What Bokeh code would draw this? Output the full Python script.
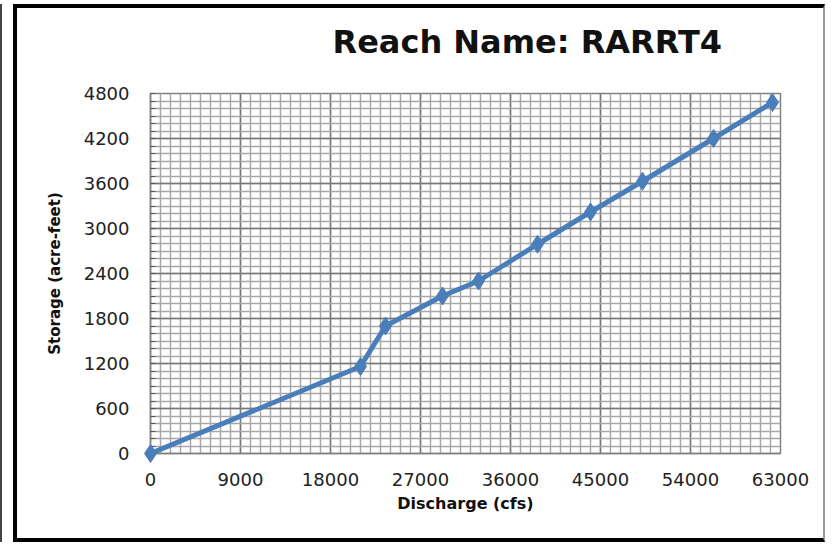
from bokeh.plotting import figure
from bokeh.models import FixedTicker, Range1d
from bokeh.core.properties import value
from bokeh.embed import file_html
from bokeh.resources import INLINE

# Data
discharge_cfs = [0, 21000, 23500, 29200, 32800, 38700, 44000, 49200, 56300, 62200]
storage_acft = [0, 1160, 1700, 2100, 2300, 2790, 3220, 3630, 4200, 4680]

x_major_ticks = list(range(0, 63001, 9000))
x_minor_ticks = list(range(0, 63001, 1000))
y_major_ticks = list(range(0, 4801, 600))
y_minor_ticks = list(range(0, 4801, 100))

title_text = "Reach Name: RARRT4"
x_label = "Discharge (cfs)"
y_label = "Storage (acre-feet)"

BLUE = "#4A7EBB"
FONT = "DejaVu Sans"

p = figure(
    width=812, height=538,
    x_range=Range1d(0, 63000), y_range=Range1d(0, 4800),
    output_backend="svg", toolbar_location=None,
    min_border_left=133, min_border_right=49,
    min_border_top=85, min_border_bottom=93,
    background_fill_color="white", border_fill_color="white",
)
# outer chart frame
p.styles = {
    "margin-left": "13px", "margin-top": "4px",
    "border-left": "4px solid black", "border-top": "4px solid black",
    "border-bottom": "4px solid black", "border-right": "2px solid #9a9a9a",
    "box-shadow": "-11px 0 0 0 white, -13px 0 0 0 #444444",
}

p.outline_line_color = "#808080"
p.outline_line_width = 1.5

# grids
for g, ticks, minors in ((p.xgrid, x_major_ticks, x_minor_ticks), (p.ygrid, y_major_ticks, y_minor_ticks)):
    g.ticker = FixedTicker(ticks=ticks, minor_ticks=minors)
    g.grid_line_color = "#787878"
    g.grid_line_width = 1.5
    g.minor_grid_line_color = "#A8A8A8"
    g.minor_grid_line_width = 1.5

p.xaxis.ticker = FixedTicker(ticks=x_major_ticks, minor_ticks=x_minor_ticks)
p.yaxis.ticker = FixedTicker(ticks=y_major_ticks, minor_ticks=y_minor_ticks)

for ax in (p.xaxis[0], p.yaxis[0]):
    ax.axis_line_color = "#808080"
    ax.axis_line_width = 1.5
    ax.major_tick_in = 0
    ax.major_tick_out = 0
    ax.major_label_text_font = FONT
    ax.major_label_text_font_size = "18px"
    ax.major_label_text_color = "#222222"
    ax.axis_label_text_font = FONT
    ax.axis_label_text_font_style = "bold"
    ax.axis_label_text_color = "#111111"

p.xaxis.axis_label_text_font_size = "16px"
p.yaxis.axis_label_text_font_size = "15px"
p.xaxis.minor_tick_in = 0
p.xaxis.minor_tick_out = 0
p.yaxis.minor_tick_in = 5
p.yaxis.minor_tick_out = 0
p.yaxis.minor_tick_line_color = "#555555"

p.xaxis.axis_label = x_label
p.yaxis.axis_label = y_label
p.xaxis.major_label_standoff = 19
p.yaxis.major_label_standoff = 21
p.xaxis.axis_label_standoff = 5
p.yaxis.axis_label_standoff = 17

p.line(discharge_cfs, storage_acft, line_color=BLUE, line_width=5)
p.scatter(discharge_cfs, storage_acft, marker="diamond", size=18, fill_color=BLUE,
          line_color=BLUE, level="overlay")

# chart title: anchored at the frame's top-left corner, shifted by pixel offsets
p.text(x=[p.x_range.start], y=[p.y_range.end], text=[title_text],
       x_offset=182, y_offset=-52,
       text_font=value(FONT), text_font_size="32px", text_font_style="bold",
       text_color="#111111", text_baseline="alphabetic", text_align="left",
       level="overlay")

open("out.html", "w").write(file_html(p, INLINE))
